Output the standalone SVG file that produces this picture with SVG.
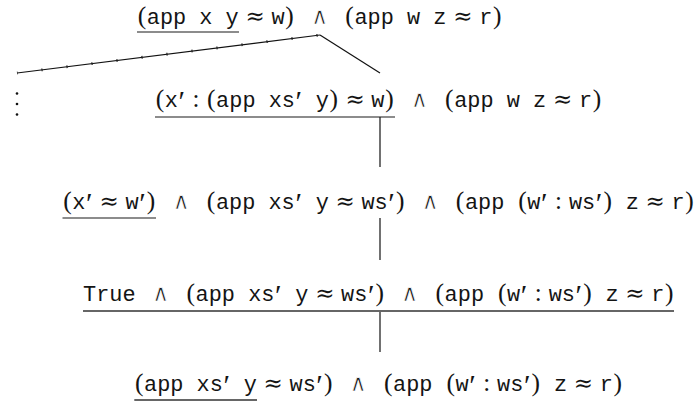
<svg xmlns="http://www.w3.org/2000/svg" width="699" height="405" viewBox="0 0 699 405">
  <style>
    text { fill: #141414; }
    .tt { font-family: "Liberation Mono", "DejaVu Sans Mono", monospace; font-size: 21.9px; }
    .pa { font-family: "Liberation Serif", "DejaVu Serif", serif; font-size: 25.5px; text-anchor: middle; }
    .co { font-family: "Liberation Serif", "DejaVu Serif", serif; font-size: 25px; text-anchor: middle; }
    .sy { font-family: "DejaVu Serif", serif; font-size: 23px; text-anchor: middle; }
    .an { font-family: "DejaVu Serif", serif; font-size: 23px; text-anchor: middle; stroke: #fff; stroke-width: 0.7px; }
    .pr { font-family: "Liberation Serif", "DejaVu Serif", serif; font-size: 30px; text-anchor: middle; }
    .ul { stroke: #1a1a1a; stroke-width: 1.2; fill: none; }
    .ul2 { stroke: #666; stroke-width: 1.8; fill: none; }
    .edge { stroke: #111; stroke-width: 1.2; fill: none; }
  </style>

  <!-- tree edges -->
  <g id="connectors">
    <line class="edge" x1="320" y1="35" x2="17" y2="73"/>
    <line x1="17" y1="73" x2="320" y2="35" stroke="#222" stroke-width="2.8" stroke-dasharray="1.2 24" stroke-dashoffset="0.6"/>
    <line class="edge" x1="320" y1="35" x2="380" y2="73"/>
    <line class="edge" x1="380" y1="117" x2="380" y2="167"/>
    <line class="edge" x1="380" y1="218" x2="380" y2="260"/>
    <line class="edge" x1="380" y1="311" x2="380" y2="352"/>
    <g id="ellipsis" fill="#111">
      <circle cx="17" cy="93.5" r="1.3"/>
      <circle cx="17" cy="104" r="1.3"/>
      <circle cx="17" cy="114.5" r="1.3"/>
    </g>
  </g>

  <!-- root goal -->
  <g id="node-root">
    <text class="pa" x="141.88" y="24">(</text>
    <text class="tt" x="146.76" y="24">app x y</text>
    <text class="sy" x="255.25" y="24">≈</text>
    <text class="tt" x="271.55" y="24">w</text>
    <text class="pa" x="289.6" y="24">)</text>
    <text class="an" x="319.56" y="24">∧</text>
    <text class="pa" x="349.52" y="24">(</text>
    <text class="tt" x="354.4" y="24">app w z</text>
    <text class="sy" x="462.89" y="24">≈</text>
    <text class="tt" x="479.19" y="24">r</text>
    <text class="pa" x="497.24" y="24">)</text>
    <line class="ul" x1="137" y1="32" x2="239" y2="32"/>
  </g>

  <!-- cons case -->
  <g id="node-cons">
    <text class="pa" x="159.88" y="107">(</text>
    <text class="tt" x="164.76" y="107">x</text>
    <text class="pr" x="181.69" y="111">′</text>
    <text class="co" x="195.9" y="107">:</text>
    <text class="pa" x="211.23" y="107">(</text>
    <text class="tt" x="216.11" y="107">app xs</text>
    <text class="pr" x="298.89" y="111">′</text>
    <text class="tt" x="315.82" y="107">y</text>
    <text class="pa" x="333.87" y="107">)</text>
    <text class="sy" x="355.05" y="107">≈</text>
    <text class="tt" x="371.35" y="107">w</text>
    <text class="pa" x="389.4" y="107">)</text>
    <text class="an" x="419.36" y="107">∧</text>
    <text class="pa" x="449.32" y="107">(</text>
    <text class="tt" x="454.2" y="107">app w z</text>
    <text class="sy" x="562.69" y="107">≈</text>
    <text class="tt" x="578.99" y="107">r</text>
    <text class="pa" x="597.04" y="107">)</text>
    <line class="ul" x1="155" y1="117" x2="395" y2="117"/>
  </g>

  <!-- split of the cons equation -->
  <g id="node-split">
    <text class="pa" x="67.38" y="209">(</text>
    <text class="tt" x="72.26" y="209">x</text>
    <text class="pr" x="89.19" y="213">′</text>
    <text class="sy" x="109.25" y="209">≈</text>
    <text class="tt" x="125.55" y="209">w</text>
    <text class="pr" x="142.48" y="213">′</text>
    <text class="pa" x="151.12" y="209">)</text>
    <line class="ul" x1="62.5" y1="218" x2="156" y2="218"/>
    <text class="an" x="181.08" y="209">∧</text>
    <g transform="translate(206.16,209)">
      <text class="pa" x="4.88" y="0">(</text>
      <text class="tt" x="9.76" y="0">app xs</text>
      <text class="pr" x="92.54" y="4">′</text>
      <text class="tt" x="109.47" y="0">y</text>
      <text class="sy" x="138.94" y="0">≈</text>
      <text class="tt" x="155.24" y="0">ws</text>
      <text class="pr" x="185.34" y="4">′</text>
      <text class="pa" x="193.98" y="0">)</text>
    </g>
    <text class="an" x="430.1" y="209">∧</text>
    <g transform="translate(455.18,209)">
      <text class="pa" x="4.88" y="0">(</text>
      <text class="tt" x="9.76" y="0">app</text>
      <text class="pa" x="67.32" y="0">(</text>
      <text class="tt" x="72.2" y="0">w</text>
      <text class="pr" x="89.13" y="4">′</text>
      <text class="co" x="103.34" y="0">:</text>
      <text class="tt" x="113.79" y="0">ws</text>
      <text class="pr" x="143.89" y="4">′</text>
      <text class="pa" x="152.53" y="0">)</text>
      <text class="tt" x="170.58" y="0">z</text>
      <text class="sy" x="200.05" y="0">≈</text>
      <text class="tt" x="216.35" y="0">r</text>
      <text class="pa" x="234.4" y="0">)</text>
    </g>
  </g>

  <!-- head equation discharged -->
  <g id="node-true">
    <text class="tt" x="83" y="301">True</text>
    <text class="an" x="160.76" y="301">∧</text>
    <g transform="translate(185.84,301)">
      <text class="pa" x="4.88" y="0">(</text>
      <text class="tt" x="9.76" y="0">app xs</text>
      <text class="pr" x="92.54" y="4">′</text>
      <text class="tt" x="109.47" y="0">y</text>
      <text class="sy" x="138.94" y="0">≈</text>
      <text class="tt" x="155.24" y="0">ws</text>
      <text class="pr" x="185.34" y="4">′</text>
      <text class="pa" x="193.98" y="0">)</text>
    </g>
    <text class="an" x="409.78" y="301">∧</text>
    <g transform="translate(434.86,301)">
      <text class="pa" x="4.88" y="0">(</text>
      <text class="tt" x="9.76" y="0">app</text>
      <text class="pa" x="67.32" y="0">(</text>
      <text class="tt" x="72.2" y="0">w</text>
      <text class="pr" x="89.13" y="4">′</text>
      <text class="co" x="103.34" y="0">:</text>
      <text class="tt" x="113.79" y="0">ws</text>
      <text class="pr" x="143.89" y="4">′</text>
      <text class="pa" x="152.53" y="0">)</text>
      <text class="tt" x="170.58" y="0">z</text>
      <text class="sy" x="200.05" y="0">≈</text>
      <text class="tt" x="216.35" y="0">r</text>
      <text class="pa" x="234.4" y="0">)</text>
    </g>
    <line class="ul2" x1="83" y1="311" x2="674" y2="311"/>
  </g>

  <!-- simplified goal -->
  <g id="node-simplified">
    <g transform="translate(134.3,391)">
      <text class="pa" x="4.88" y="0">(</text>
      <text class="tt" x="9.76" y="0">app xs</text>
      <text class="pr" x="92.54" y="4">′</text>
      <text class="tt" x="109.47" y="0">y</text>
      <text class="sy" x="138.94" y="0">≈</text>
      <text class="tt" x="155.24" y="0">ws</text>
      <text class="pr" x="185.34" y="4">′</text>
      <text class="pa" x="193.98" y="0">)</text>
    </g>
    <text class="an" x="358.24" y="391">∧</text>
    <g transform="translate(383.32,391)">
      <text class="pa" x="4.88" y="0">(</text>
      <text class="tt" x="9.76" y="0">app</text>
      <text class="pa" x="67.32" y="0">(</text>
      <text class="tt" x="72.2" y="0">w</text>
      <text class="pr" x="89.13" y="4">′</text>
      <text class="co" x="103.34" y="0">:</text>
      <text class="tt" x="113.79" y="0">ws</text>
      <text class="pr" x="143.89" y="4">′</text>
      <text class="pa" x="152.53" y="0">)</text>
      <text class="tt" x="170.58" y="0">z</text>
      <text class="sy" x="200.05" y="0">≈</text>
      <text class="tt" x="216.35" y="0">r</text>
      <text class="pa" x="234.4" y="0">)</text>
    </g>
    <line class="ul2" x1="134.3" y1="400" x2="257" y2="400"/>
  </g>
</svg>
